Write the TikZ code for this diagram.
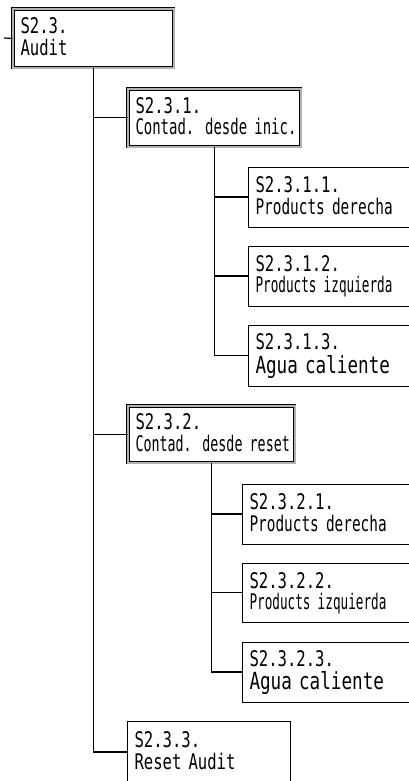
\documentclass[tikz,border=0pt]{standalone}
\usepackage{fontspec}
\usepackage{tikz}
\newfontfamily\lcdfont{DejaVu Sans Mono}
\newcommand{\lin}[2]{\mbox{\rule[-4.5pt]{0pt}{21.5pt}\addfontfeature{FakeStretch=#1}#2}}

\begin{document}
\begin{tikzpicture}[x=1pt, y=-1pt,
    box/.style={draw, line width=1pt, anchor=north west, inner xsep=7.5pt, inner ysep=0pt,
                align=left, font={\lcdfont\fontsize{21.5}{21.5}\selectfont}},
    dbox/.style={box, double, line width=0.8pt, double distance=1.6pt, double=black!30},
    link/.style={line width=1.2pt}]
        \useasboundingbox (0,0) rectangle (409,781);
        \clip (0,0) rectangle (409,781);

        % Audit menu
        \node[dbox, text width=145.8pt, minimum height=58.8pt] (audit) at (12.6,8.6)
            {\lin{.725}{S2.3.}\\\lin{.725}{Audit}};
        \coordinate (stub) at (4,38);

        % Counters since start
        \node[dbox, text width=157.8pt, minimum height=57.8pt] (inic) at (127.6,88.6)
            {\lin{.725}{S2.3.1.}\\\lin{.65}{Contad. desde inic.}};
        \node[box, text width=200pt, minimum height=60pt] (inicder) at (247.5,166.5)
            {\lin{.725}{S2.3.1.1.}\\\lin{.67}{Products derecha}};
        \node[box, text width=200pt, minimum height=60pt] (inicizq) at (247.5,245.5)
            {\lin{.725}{S2.3.1.2.}\\\lin{.59}{Products izquierda}};
        \node[box, text width=200pt, minimum height=61pt] (inicagua) at (247.5,324.5)
            {\lin{.725}{S2.3.1.3.}\\\lin{.75}{\fontsize{23.5}{21.5}\selectfont Agua caliente}};

        % Counters since reset
        \node[dbox, text width=151.8pt, minimum height=56.8pt] (reset) at (127.6,405.6)
            {\lin{.725}{S2.3.2.}\\\lin{.62}{Contad. desde reset}};
        \node[box, text width=200pt, minimum height=60pt] (resetder) at (241.5,483.5)
            {\lin{.725}{S2.3.2.1.}\\\lin{.67}{Products derecha}};
        \node[box, text width=200pt, minimum height=59pt] (resetizq) at (241.5,562.5)
            {\lin{.725}{S2.3.2.2.}\\\lin{.59}{Products izquierda}};
        \node[box, text width=200pt, minimum height=60pt] (resetagua) at (241.5,641.5)
            {\lin{.725}{S2.3.2.3.}\\\lin{.75}{\fontsize{23.5}{21.5}\selectfont Agua caliente}};

        % Reset audit
        \node[box, text width=148pt, minimum height=62pt] (resaudit) at (126.5,720.5)
            {\lin{.725}{S2.3.3.}\\\lin{.725}{Reset Audit}};

        % Links
        \draw[link] (stub) -- (audit.west);
        \draw[link] (audit.south) |- (inic.west);
        \draw[link] (audit.south) |- (reset.west);
        \draw[link] (audit.south) |- (resaudit.west);
        \draw[link] (inic.south) |- (inicder.west);
        \draw[link] (inic.south) |- (inicizq.west);
        \draw[link] (inic.south) |- (inicagua.west);
        \draw[link] (reset.south) |- (resetder.west);
        \draw[link] (reset.south) |- (resetizq.west);
        \draw[link] (reset.south) |- (resetagua.west);
    \end{tikzpicture}
\end{document}
